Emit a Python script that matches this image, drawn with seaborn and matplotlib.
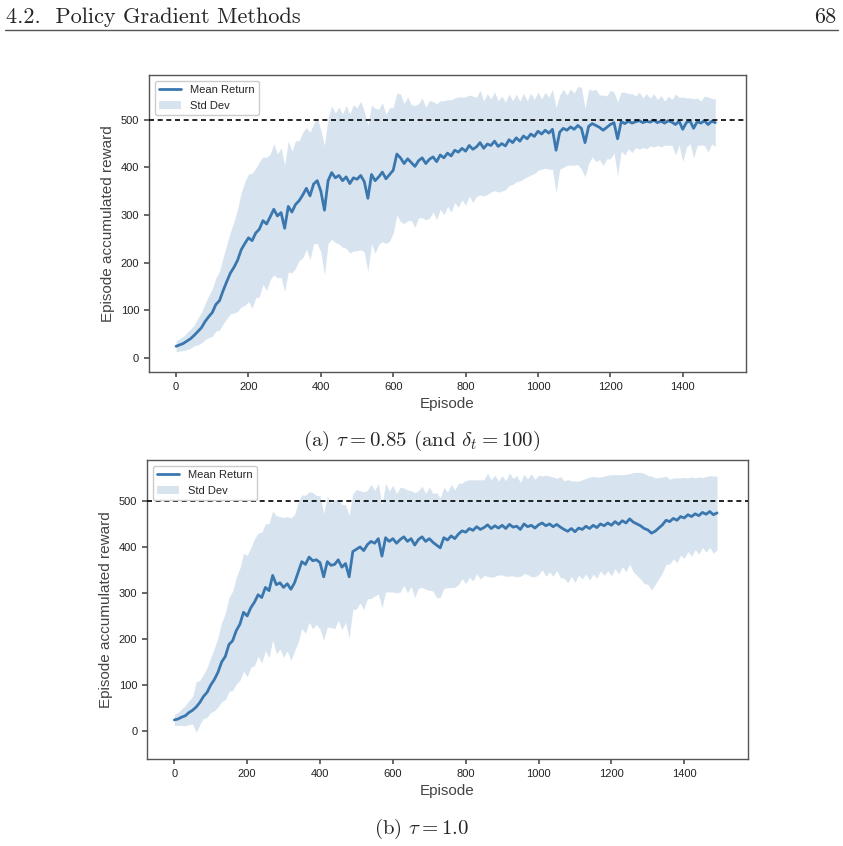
import matplotlib.pyplot as plt
import numpy as np
import pandas as pd
import seaborn as sns
from matplotlib.lines import Line2D

episodes = list(range(0, 1500, 10))

# (a) tau = 0.85
mean_a = [
    24, 27, 30, 35, 40, 47, 55, 63, 76, 86,
    95, 112, 120, 141, 160, 178, 190, 205, 227, 240,
    252, 246, 262, 270, 288, 281, 296, 312, 298, 305,
    272, 318, 306, 322, 330, 342, 356, 340, 365, 372,
    350, 310, 372, 389, 378, 383, 372, 380, 366, 378,
    375, 383, 370, 335, 385, 372, 380, 390, 376, 385,
    394, 428, 420, 408, 418, 410, 402, 414, 420, 408,
    417, 422, 412, 426, 420, 430, 424, 436, 432, 440,
    434, 446, 438, 443, 452, 440, 449, 446, 455, 444,
    450, 445, 458, 452, 462, 455, 466, 460, 470, 465,
    476, 470, 478, 472, 480, 436, 474, 482, 478, 485,
    480, 488, 482, 452, 486, 492, 488, 484, 478, 484,
    490, 494, 460, 496, 492, 497, 493, 496, 498, 494,
    497, 495, 499, 494, 497, 493, 498, 495, 490, 497,
    480, 494, 498, 482, 496, 493, 498, 490, 497, 494,
]
std_a = [
    12, 13, 15, 18, 20, 22, 28, 32, 38, 44,
    50, 56, 62, 70, 78, 86, 96, 108, 120, 130,
    134, 142, 136, 142, 134, 140, 132, 138, 130, 136,
    133, 138, 128, 134, 126, 132, 128, 134, 126, 132,
    128, 136, 132, 140, 136, 144, 140, 150, 146, 154,
    150, 156, 148, 154, 146, 152, 142, 146, 136, 140,
    132, 128, 134, 126, 130, 122, 128, 120, 126, 118,
    124, 116, 122, 114, 120, 112, 118, 110, 116, 108,
    114, 106, 112, 104, 110, 100, 106, 98, 104, 96,
    100, 92, 96, 88, 92, 84, 90, 80, 86, 78,
    82, 74, 80, 76, 84, 90, 78, 82, 74, 80,
    76, 82, 86, 72, 78, 70, 76, 68, 74, 66,
    72, 64, 78, 62, 66, 58, 62, 54, 60, 52,
    58, 50, 56, 48, 54, 46, 52, 48, 64, 50,
    68, 52, 48, 62, 50, 46, 52, 58, 48, 50,
]

# (b) tau = 1.0
mean_b = [
    24, 26, 30, 33, 40, 45, 52, 62, 75, 84,
    100, 112, 128, 150, 162, 188, 196, 218, 232, 258,
    250, 268, 280, 296, 290, 312, 305, 338, 318, 322,
    312, 320, 308, 322, 345, 368, 362, 378, 370, 372,
    366, 335, 368, 360, 362, 372, 356, 364, 335, 390,
    395, 400, 392, 405, 412, 408, 418, 380, 420, 412,
    418, 408, 416, 422, 412, 418, 404, 416, 422, 412,
    418, 410, 404, 398, 420, 415, 424, 418, 428, 435,
    432, 440, 436, 444, 438, 442, 448, 440, 446, 441,
    447, 440, 449, 443, 445, 438, 450, 444, 447, 441,
    448, 452, 446, 450, 444, 449, 443, 438, 434, 440,
    433, 441, 438, 445, 440, 447, 442, 450, 446, 452,
    447, 455, 449, 457, 452, 461, 454, 450, 446, 440,
    437, 430, 434, 441, 448, 458, 455, 462, 458, 466,
    463, 470, 466, 472, 468, 475, 471, 477, 470, 474,
]
std_b = [
    12, 14, 18, 22, 26, 30, 55, 48, 48, 54,
    60, 68, 76, 86, 94, 102, 108, 116, 122, 128,
    132, 130, 138, 134, 142, 138, 146, 140, 150, 144,
    152, 146, 155, 148, 152, 145, 150, 142, 148, 140,
    145, 138, 142, 135, 140, 132, 136, 128, 134, 126,
    130, 122, 128, 118, 124, 115, 120, 112, 118, 110,
    116, 108, 114, 106, 112, 104, 114, 106, 110, 104,
    112, 106, 114, 108, 110, 104, 112, 106, 110, 104,
    112, 106, 110, 102, 108, 104, 112, 106, 110, 102,
    108, 104, 112, 106, 110, 102, 108, 104, 112, 106,
    108, 102, 110, 104, 108, 100, 110, 106, 112, 104,
    110, 102, 108, 104, 112, 106, 110, 102, 108, 104,
    110, 102, 108, 100, 106, 98, 108, 112, 116, 120,
    118, 124, 116, 110, 104, 96, 92, 88, 92, 84,
    88, 80, 86, 78, 84, 76, 82, 78, 84, 80,
]

max_return = 500
x_ticks = [0, 200, 400, 600, 800, 1000, 1200, 1400]
y_ticks = [0, 100, 200, 300, 400, 500]
captions = [r"(a) $\tau = 0.85$ (and $\delta_t = 100$)", r"(b) $\tau = 1.0$"]

LINE = "#3a77af"
FILL = "#4682b4"


def format_plot():
    sns.set_theme(style="ticks")
    plt.rcParams["font.family"] = ["Liberation Sans", "DejaVu Sans"]
    plt.rcParams["mathtext.fontset"] = "cm"
    plt.rcParams["axes.edgecolor"] = "#555555"
    plt.rcParams["axes.linewidth"] = 1.0
    plt.rcParams["xtick.color"] = "#555555"
    plt.rcParams["ytick.color"] = "#555555"
    plt.rcParams["xtick.labelcolor"] = "#222222"
    plt.rcParams["ytick.labelcolor"] = "#222222"
    plt.rcParams["xtick.major.size"] = 3.5
    plt.rcParams["ytick.major.size"] = 3.5


def draw_panel(ax, mean, std, ylim):
    df = pd.DataFrame({"episode": episodes, "mean": mean, "std": std})
    sns.lineplot(data=df, x="episode", y="mean", ax=ax, color=LINE,
                 linewidth=2.0, label="Mean Return", zorder=3)
    ax.fill_between(df["episode"], df["mean"] - df["std"], df["mean"] + df["std"],
                    color=FILL, alpha=0.21, linewidth=0, label="Std Dev")
    ax.axhline(max_return, color="black", linestyle=(0, (3, 2.2)), linewidth=1.2, zorder=4)
    ax.set_xlim(-75, 1575)
    ax.set_ylim(*ylim)
    ax.set_xticks(x_ticks)
    ax.set_yticks(y_ticks)
    ax.tick_params(labelsize=8)
    ax.set_xlabel("Episode", fontsize=11, color="#444444")
    ax.set_ylabel("Episode accumulated reward", fontsize=11, color="#444444")
    ax.legend(loc="upper left", fontsize=8, frameon=True, edgecolor="#cccccc",
              fancybox=True, framealpha=1.0)


format_plot()
fig = plt.figure(figsize=(8.43, 8.46), dpi=100)

ax_a = fig.add_axes([0.1767, 0.5603, 0.7083, 0.3510])
ax_b = fig.add_axes([0.1744, 0.1028, 0.7129, 0.3535])
draw_panel(ax_a, mean_a, std_a, (-30, 594))
draw_panel(ax_b, mean_b, std_b, (-61, 589))

# page header and captions
fig.text(0.007, 0.973, "4.2.  Policy Gradient Methods", family="cmr10", fontsize=16,
         ha="left", va="baseline")
fig.text(0.992, 0.973, "68", family="cmr10", fontsize=16, ha="right", va="baseline")
fig.add_artist(Line2D([0.006, 0.994], [0.9645, 0.9645], transform=fig.transFigure,
                      color="#555555", linewidth=1.0))
fig.text(0.5, 0.479, captions[0], family="cmr10", fontsize=15, ha="center", va="center")
fig.text(0.5, 0.020, captions[1], family="cmr10", fontsize=15, ha="center", va="center")

plt.savefig("out.png", dpi=100)
